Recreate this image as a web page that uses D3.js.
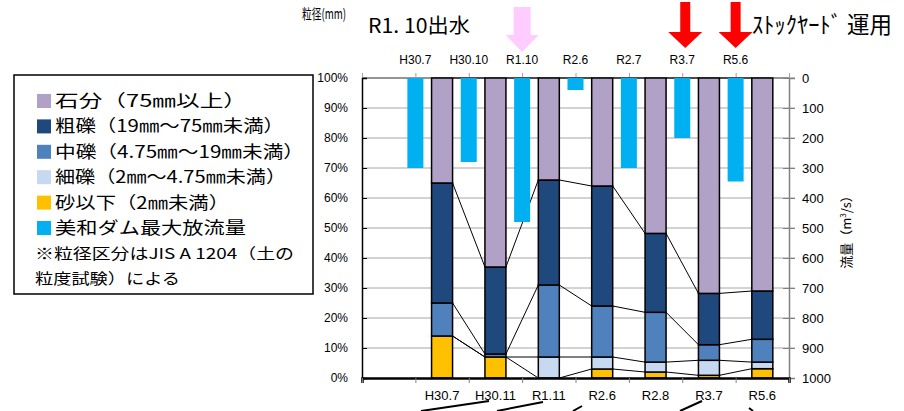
<!DOCTYPE html>
<html>
<head>
<meta charset="utf-8">
<script src="https://cdn.jsdelivr.net/npm/d3@7"></script>
<style>
  html, body { margin: 0; padding: 0; background: #fff; }
  svg { display: block; }
  text { font-family: "Liberation Sans", Arial, sans-serif; }
  .jp { font-family: "Noto Sans CJK JP", "Noto Sans", sans-serif; }
</style>
</head>
<body>
<svg id="chart" width="904" height="411"></svg>
<script>
// Survey dates for grain-size samples (bottom axis)
const sampleDates = ["H30.7", "H30.11", "R1.11", "R2.6", "R2.8", "R3.7", "R5.6"];
// Grain-size composition (%) per sample, bottom to top of each stack
const sand        = [14, 7, 0, 3, 2, 0.9, 3.1];          // 砂以下
const fineGravel  = [0, 0, 7, 4, 3.3, 5, 2.2];           // 細礫
const midGravel   = [11, 1, 24, 17, 16.6, 5.2, 7.6];     // 中礫
const coarseGravel= [40, 29, 35, 40, 26.3, 17.1, 16.1];  // 粗礫
const cobbles     = [35, 63, 34, 36, 51.8, 71.8, 71];    // 石分

// Flood events and maximum dam discharge (top axis, right scale)
const floodDates = ["H30.7", "H30.10", "R1.10", "R2.6", "R2.7", "R3.7", "R5.6"];
const maxDischarge = [300, 280, 480, 40, 300, 200, 345];

const pctTicks = [0, 10, 20, 30, 40, 50, 60, 70, 80, 90, 100];
const flowTicks = [0, 100, 200, 300, 400, 500, 600, 700, 800, 900, 1000];

const seriesKeys = ["sand", "fine", "mid", "coarse", "cobble"];
const seriesColors = {
  sand: "#FFC000", fine: "#C6D9F1", mid: "#4F81BD", coarse: "#1F497D", cobble: "#B2A1C7"
};
const flowColor = "#00B0F0";

const rows = sampleDates.map((d, i) => ({
  date: d, sand: sand[i], fine: fineGravel[i], mid: midGravel[i],
  coarse: coarseGravel[i], cobble: cobbles[i]
}));

const svg = d3.select("#chart");
const L = 362, R = 789, T = 78, B = 378;

// 8 slots: first one empty, samples centred in slots 2-8, floods on slot boundaries
const x = d3.scaleLinear().domain([0, 8]).range([L, R]);
const xSample = i => x(i + 1.5);
const xFlood = d3.scalePoint().domain(floodDates).range([x(1), x(7)]);
const y = d3.scaleLinear().domain([0, 100]).range([B, T]);
const yFlow = d3.scaleLinear().domain([0, 1000]).range([T, B]);

const barW = 21, flowW = 16;

// gridlines
svg.append("g").selectAll("line").data(pctTicks.slice(1)).join("line")
  .attr("x1", L).attr("x2", R + 6)
  .attr("y1", d => y(d)).attr("y2", d => y(d))
  .attr("stroke", "#A6A6A6").attr("stroke-width", 1);

// right axis (discharge)
const rAxis = svg.append("g").attr("transform", `translate(${R},0)`)
  .call(d3.axisRight(yFlow).tickValues(flowTicks).tickSize(6).tickPadding(7)
    .tickFormat(d3.format("d")));
rAxis.select(".domain").attr("stroke", "#808080").attr("stroke-width", 1.5);
rAxis.selectAll(".tick line").attr("stroke", "#808080").attr("x1", -6);
rAxis.selectAll("text").attr("font-size", 13).attr("fill", "#000")
  .attr("font-family", "Liberation Sans, Arial, sans-serif");

// top frame and ticks
svg.append("line").attr("x1", L).attr("x2", R).attr("y1", T).attr("y2", T)
  .attr("stroke", "#808080").attr("stroke-width", 1.5);
const tAxis = svg.append("g").attr("transform", `translate(0,${T})`)
  .call(d3.axisTop(x).tickValues(d3.range(0, 9)).tickSize(5).tickFormat(""));
tAxis.select(".domain").remove();
tAxis.selectAll(".tick line").attr("stroke", "#A0A0A0");

// flood date labels
svg.append("g").selectAll("text").data(floodDates).join("text")
  .attr("x", d => xFlood(d)).attr("y", 64)
  .attr("text-anchor", "middle").attr("font-size", 12).text(d => d);

// series lines between stacks
const stacked = d3.stack().keys(seriesKeys)(rows);
const lineG = svg.append("g");
stacked.forEach(s => {
  for (let i = 0; i < s.length - 1; i++) {
    lineG.append("line")
      .attr("x1", xSample(i) + barW / 2).attr("y1", y(s[i][1]))
      .attr("x2", xSample(i + 1) - barW / 2).attr("y2", y(s[i + 1][1]))
      .attr("stroke", "#000").attr("stroke-width", 1);
  }
});

// stacked grain-size bars
svg.append("g").selectAll("g").data(stacked).join("g")
  .attr("fill", s => seriesColors[s.key])
  .selectAll("rect").data(s => s.map((p, i) => ({ p, i }))).join("rect")
  .attr("x", d => xSample(d.i) - barW / 2)
  .attr("width", barW)
  .attr("y", d => y(d.p[1]))
  .attr("height", d => Math.max(0, y(d.p[0]) - y(d.p[1])))
  .attr("stroke", "#000").attr("stroke-width", 1.5);

// maximum discharge bars, hanging from the top
svg.append("g").selectAll("rect").data(maxDischarge).join("rect")
  .attr("x", (d, i) => xFlood(floodDates[i]) - flowW / 2)
  .attr("width", flowW)
  .attr("y", yFlow(0))
  .attr("height", d => yFlow(d) - yFlow(0))
  .attr("fill", flowColor);

// left axis (percent)
const lAxis = svg.append("g").attr("transform", `translate(${L},0)`)
  .call(d3.axisLeft(y).tickValues(pctTicks).tickSize(-5).tickPadding(14)
    .tickFormat(d => d + "%"));
lAxis.select(".domain").attr("stroke", "#000").attr("stroke-width", 1.5);
lAxis.selectAll(".tick line").attr("stroke", "#000");
lAxis.selectAll("text").attr("font-size", 12).attr("fill", "#000")
  .attr("font-family", "Liberation Sans, Arial, sans-serif");

// bottom axis
const bAxis = svg.append("g").attr("transform", `translate(0,${B})`)
  .call(d3.axisBottom(x).tickValues(d3.range(0, 9)).tickSize(5).tickFormat(""));
bAxis.select(".domain").attr("stroke", "#000").attr("stroke-width", 2.5);
bAxis.selectAll(".tick line").attr("stroke", "#808080");
svg.append("g").selectAll("text").data(sampleDates).join("text")
  .attr("x", (d, i) => xSample(i)).attr("y", 400)
  .attr("text-anchor", "middle").attr("font-size", 13).text(d => d);

// right axis title
const rt = svg.append("text").attr("class", "jp")
  .attr("transform", "translate(851,229) rotate(-90)")
  .attr("text-anchor", "middle").attr("font-size", 13);
rt.append("tspan").text("流量（m");
rt.append("tspan").attr("font-size", 8).attr("dy", -5).text("3");
rt.append("tspan").attr("dy", 5).text("/s）");

// header texts
svg.append("text").attr("class", "jp").attr("x", 302).attr("y", 19)
  .attr("font-size", 14).attr("textLength", 44).attr("lengthAdjust", "spacingAndGlyphs")
  .text("粒径(mm)");
svg.append("text").attr("class", "jp").attr("x", 368).attr("y", 33)
  .attr("font-size", 20).attr("textLength", 102).attr("lengthAdjust", "spacingAndGlyphs")
  .text("R1. 10出水");
svg.append("text").attr("class", "jp").attr("x", 752).attr("y", 33)
  .attr("font-size", 23).attr("textLength", 140).attr("lengthAdjust", "spacingAndGlyphs")
  .text("ｽﾄｯｸﾔｰﾄﾞ 運用");

// event arrows
function arrow(cx, top, headY, tip, shaftW, headW, color) {
  const p = d3.path();
  p.moveTo(cx - shaftW / 2, top); p.lineTo(cx + shaftW / 2, top);
  p.lineTo(cx + shaftW / 2, headY); p.lineTo(cx + headW / 2, headY);
  p.lineTo(cx, tip); p.lineTo(cx - headW / 2, headY);
  p.lineTo(cx - shaftW / 2, headY); p.closePath();
  svg.append("path").attr("d", p.toString()).attr("fill", color);
}
arrow(xFlood("R1.10"), 7, 35, 52, 17, 33, "#FFCCFF");
arrow(xFlood("R3.7") + 3, 2, 32, 48, 10, 34, "#FF0000");
arrow(xFlood("R5.6"), 2, 32, 48, 10, 34, "#FF0000");

// leader lines below the axis
[[[421, 411], [489, 401]], [[497, 411], [543, 402]], [[573, 411], [582, 406]],
 [[680, 411], [702, 401]], [[749, 408], [753, 411]]].forEach(seg => {
  svg.append("path").attr("d", d3.line()(seg)).attr("stroke", "#000").attr("stroke-width", 2);
});

// legend
const lg = svg.append("g");
lg.append("rect").attr("x", 14).attr("y", 75).attr("width", 299).attr("height", 219)
  .attr("fill", "#fff").attr("stroke", "#000").attr("stroke-width", 1.5);
const legendItems = [
  { label: "石分（75㎜以上）", color: seriesColors.cobble, w: 192 },
  { label: "粗礫（19㎜～75㎜未満）", color: seriesColors.coarse, w: 229 },
  { label: "中礫（4.75㎜～19㎜未満）", color: seriesColors.mid, w: 249 },
  { label: "細礫（2㎜～4.75㎜未満）", color: seriesColors.fine, w: 231 },
  { label: "砂以下（2㎜未満）", color: seriesColors.sand, w: 174 },
  { label: "美和ダム最大放流量", color: flowColor, w: 191 }
];
legendItems.forEach((it, i) => {
  const cy = 101 + i * 25.4;
  lg.append("rect").attr("x", 37).attr("y", cy - 7).attr("width", 14).attr("height", 14)
    .attr("fill", it.color);
  lg.append("text").attr("class", "jp").attr("x", 55).attr("y", cy + 6)
    .attr("font-size", 17).attr("textLength", it.w).attr("lengthAdjust", "spacingAndGlyphs")
    .text(it.label);
});
lg.append("text").attr("class", "jp").attr("x", 35).attr("y", 259)
  .attr("font-size", 15).attr("textLength", 259).attr("lengthAdjust", "spacingAndGlyphs")
  .text("※粒径区分はJIS A 1204（土の");
lg.append("text").attr("class", "jp").attr("x", 35).attr("y", 284)
  .attr("font-size", 15).attr("textLength", 145).attr("lengthAdjust", "spacingAndGlyphs")
  .text("粒度試験）による");
</script>
</body>
</html>
